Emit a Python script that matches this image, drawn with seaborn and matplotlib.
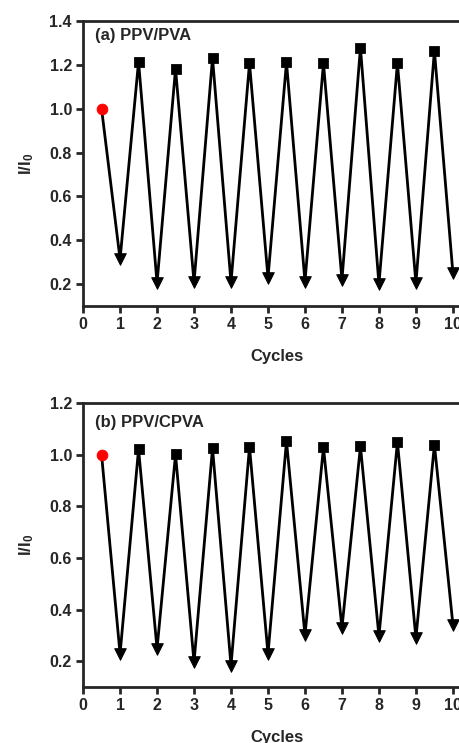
import matplotlib
matplotlib.use("Agg")
import matplotlib.pyplot as plt
import numpy as np
import pandas as pd
import seaborn as sns

sns.set_style("ticks")
plt.rcParams["font.family"] = ["Liberation Sans", "DejaVu Sans"]
plt.rcParams["font.weight"] = "bold"
plt.rcParams["mathtext.fontset"] = "custom"
plt.rcParams["mathtext.rm"] = "Liberation Sans:bold"
plt.rcParams["mathtext.bf"] = "Liberation Sans:bold"
plt.rcParams["mathtext.it"] = "Liberation Sans:bold"

# cycle positions
start_x = [0.5]
peak_x = [1.5, 2.5, 3.5, 4.5, 5.5, 6.5, 7.5, 8.5, 9.5]
dip_x = [1, 2, 3, 4, 5, 6, 7, 8, 9, 10]

# (a) PPV/PVA
a_start = [1.0]
a_peaks = [1.215, 1.183, 1.232, 1.208, 1.212, 1.208, 1.279, 1.208, 1.265]
a_dips = [0.314, 0.205, 0.208, 0.208, 0.230, 0.212, 0.220, 0.200, 0.205, 0.250]

# (b) PPV/CPVA
b_start = [1.0]
b_peaks = [1.021, 1.001, 1.025, 1.030, 1.052, 1.028, 1.032, 1.049, 1.039]
b_dips = [0.228, 0.248, 0.196, 0.183, 0.228, 0.301, 0.329, 0.297, 0.289, 0.342]


def build_frame(start, peaks, dips):
    xs = start_x + peak_x + dip_x
    ys = start + peaks + dips
    kind = ["start"] * len(start) + ["peak"] * len(peaks) + ["dip"] * len(dips)
    df = pd.DataFrame({"cycle": xs, "ratio": ys, "kind": kind})
    return df.sort_values("cycle").reset_index(drop=True)


fig = plt.figure(figsize=(4.59, 7.43), dpi=100)
ax_a = fig.add_axes([0.181, 0.588, 0.846, 0.3836])
ax_b = fig.add_axes([0.181, 0.0754, 0.846, 0.3822])

panels = [
    (ax_a, build_frame(a_start, a_peaks, a_dips), "(a) PPV/PVA", (0.1, 1.4),
     [0.2, 0.4, 0.6, 0.8, 1.0, 1.2, 1.4], 0.95),
    (ax_b, build_frame(b_start, b_peaks, b_dips), "(b) PPV/CPVA", (0.1, 1.2),
     [0.2, 0.4, 0.6, 0.8, 1.0, 1.2], 0.93),
]

for ax, df, title, ylim, yticks, ty in panels:
    sns.lineplot(data=df, x="cycle", y="ratio", ax=ax, color="black",
                 linewidth=2, sort=False, estimator=None)
    sns.scatterplot(data=df[df["kind"] == "peak"], x="cycle", y="ratio", ax=ax,
                    marker="s", s=50, color="black", edgecolor="black", zorder=3)
    sns.scatterplot(data=df[df["kind"] == "dip"], x="cycle", y="ratio", ax=ax,
                    marker="v", s=70, color="black", edgecolor="black", zorder=3)
    sns.scatterplot(data=df[df["kind"] == "start"], x="cycle", y="ratio", ax=ax,
                    marker="o", s=60, color="#ff0000", edgecolor="#ff0000", zorder=4)

    ax.set_xlim(0, 10.5)
    ax.set_ylim(*ylim)
    ax.set_xticks(range(0, 11))
    ax.set_yticks(yticks)
    ax.set_yticklabels([f"{v:.1f}" for v in yticks])
    ax.tick_params(axis="both", direction="out", length=5, width=2,
                   labelsize=11.5, pad=3)
    for lbl in ax.get_xticklabels() + ax.get_yticklabels():
        lbl.set_fontweight("bold")
    for side in ["left", "bottom", "top", "right"]:
        ax.spines[side].set_linewidth(2)
        ax.spines[side].set_visible(True)
    ax.set_xlabel("Cycles", fontsize=12, fontweight="bold", labelpad=12)
    ax.set_ylabel(r"$\mathbf{I/I_0}$", fontsize=12, labelpad=10)
    ax.text(0.031, ty, title, transform=ax.transAxes, fontsize=12,
            fontweight="bold", va="center", ha="left")

fig.savefig("out.png", dpi=100)
